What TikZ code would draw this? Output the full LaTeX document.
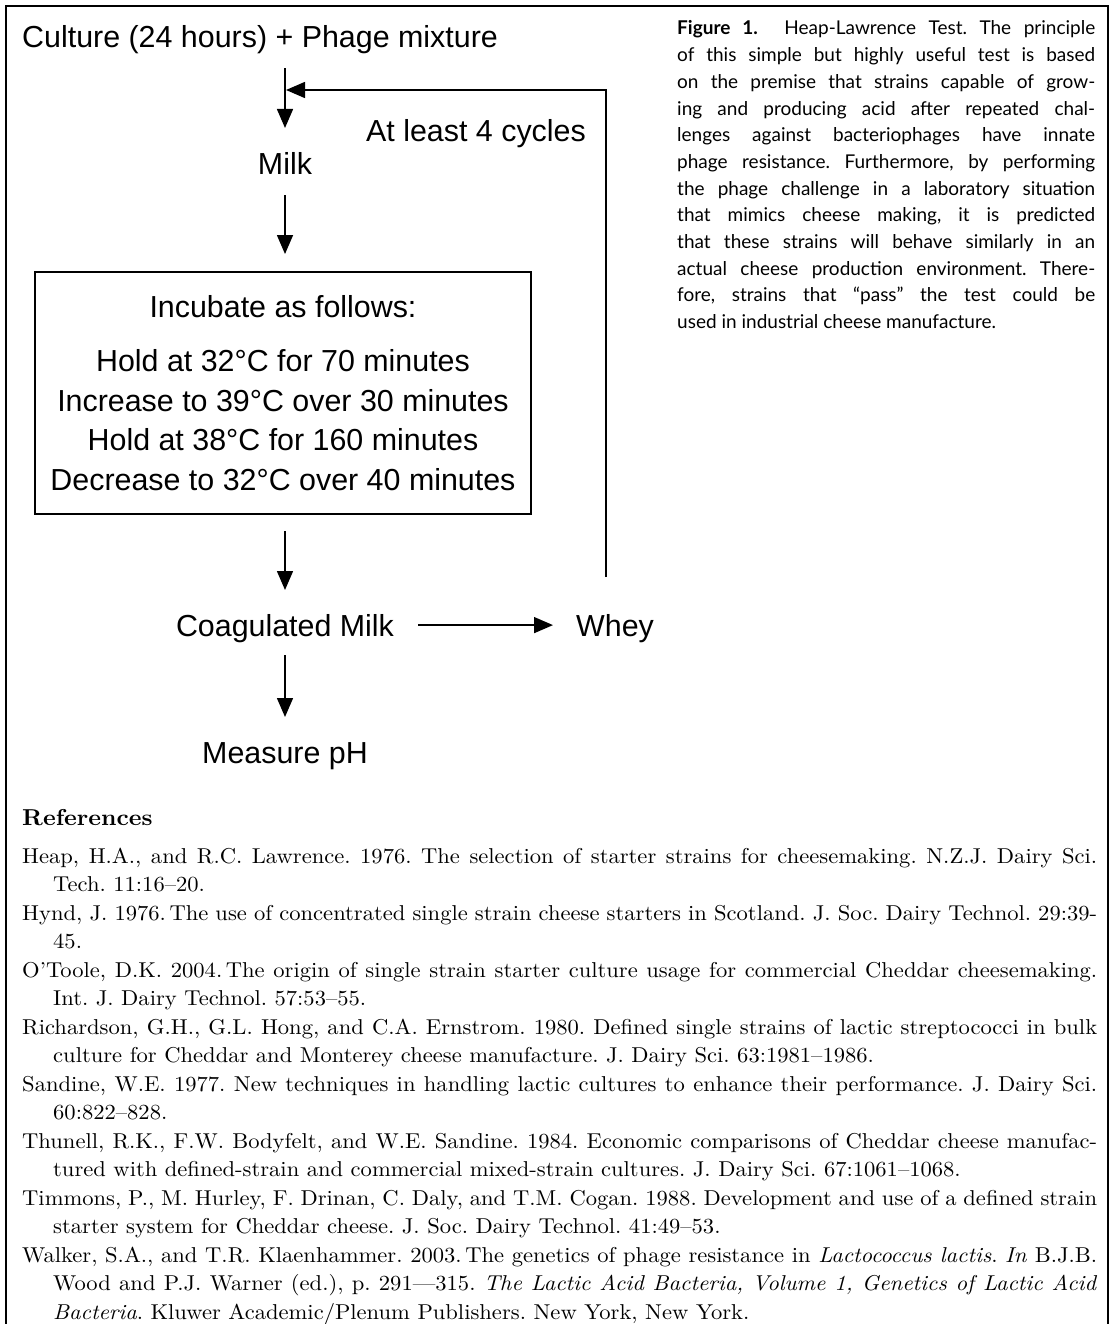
\documentclass[tikz,border=0pt]{standalone}
\usepackage{fontspec}
\newfontfamily\flowfont{Liberation Sans}
\newfontfamily\capfont{Lato}
\newfontfamily\reffont{lmroman10-regular.otf}[FakeStretch=1.05, BoldFont=lmroman10-bold.otf, ItalicFont=lmroman10-italic.otf, BoldItalicFont=lmroman10-bolditalic.otf]
\usetikzlibrary{arrows.meta,calc}
\newcommand\refitem{\par\hangindent=31pt\hangafter=1\noindent}
\begin{document}
\begin{tikzpicture}[x=1pt,y=-1pt,
  flow/.style={font=\flowfont\fontsize{30.4}{36}\selectfont, inner sep=0pt, text height=21.8pt, text depth=0pt},
  arr/.style={line width=1.5pt, -{Triangle[length=19pt,width=16pt]}},
  frameline/.style={line width=1.5pt}]
\useasboundingbox (0,0) rectangle (1111,1324);
\draw[frameline] (6,1340) -- (6,6) -- (1108,6) -- (1108,1340);

% flowchart
\node[flow, anchor=west] (culture) at (22,37.1) {Culture (24 hours) + Phage mixture};
\node[flow] (milk) at (285,164.1) {Milk};
\node[flow, anchor=east] (cycles) at (586,131.1) {At least 4 cycles};
\node[draw, line width=1.8pt, font=\flowfont\fontsize{30.4}{39.5}\selectfont, align=center,
      minimum width=496pt, inner xsep=10pt, inner ysep=23.5pt] (incubate) at (283,392.9)
  {Incubate as follows:\\[15.2pt] Hold at 32°C for 70 minutes\\ Increase to 39°C over 30 minutes\\ Hold at 38°C for 160 minutes\\ Decrease to 32°C over 40 minutes};
\node[flow] (coag) at (285,625.1) {Coagulated Milk};
\node[flow, anchor=west] (whey) at (576,625.1) {Whey};
\node[flow] (measure) at (285,752.1) {Measure pH};

\draw[arr, shorten <=20pt, shorten >=25pt] (culture.south -| milk.north) -- (milk.north);
\draw[arr, shorten <=20pt, shorten >=16.7pt] (milk.south) -- (milk.south |- incubate.north);
\draw[arr, shorten <=16pt, shorten >=24pt] (incubate.south -| coag.north) -- (coag.north);
\draw[arr, shorten <=19pt, shorten >=24pt] (coag.south) -- (measure.north);
\draw[arr, shorten <=24pt, shorten >=23pt] (coag.east) -- (whey.west);
\coordinate (loop) at (606,90);
\draw[arr, shorten <=37pt, shorten >=1pt] (whey.north -| loop) -- (loop) -- (loop -| milk.north);

% caption
\node[anchor=base west, inner sep=0pt] (caption) at (677,35) {\begin{minipage}[t]{418pt}\capfont\fontsize{19}{26.67}\selectfont\tolerance=10000\frenchspacing\noindent
\textbf{Figure 1.}\hskip 1.4em Heap-Lawrence Test. The principle\linebreak
of this simple but highly useful test is based\linebreak
on the premise that strains capable of grow-\linebreak
ing and producing acid after repeated chal-\linebreak
lenges against bacteriophages have innate\linebreak
phage resistance. Furthermore, by performing\linebreak
the phage challenge in a laboratory situation\linebreak
that mimics cheese making, it is predicted\linebreak
that these strains will behave similarly in an\linebreak
actual cheese production environment. There-\linebreak
fore, strains that “pass” the test could be\linebreak
used in industrial cheese manufacture.\par
\end{minipage}};

% references
\node[anchor=base west, inner sep=0pt, font=\reffont\bfseries\fontsize{23}{28}\selectfont] (refhead) at (22,825) {References};
\node[anchor=base west, inner sep=0pt] (refs) at (22,863) {\begin{minipage}[t]{1075pt}\reffont\fontsize{21.5}{28.5}\selectfont\tolerance=10000\frenchspacing
\refitem Heap, H.A., and R.C. Lawrence. 1976. The selection of starter strains for cheesemaking. N.Z.J. Dairy Sci.\linebreak Tech. 11:16–20.
\refitem Hynd, J. 1976.\,The use of concentrated single strain cheese starters in Scotland. J. Soc. Dairy Technol. 29:39-\linebreak 45.
\refitem O’Toole, D.K. 2004.\,The origin of single strain starter culture usage for commercial Cheddar cheesemaking.\linebreak Int. J. Dairy Technol. 57:53–55.
\refitem Richardson, G.H., G.L. Hong, and C.A. Ernstrom. 1980. Defined single strains of lactic streptococci in bulk\linebreak culture for Cheddar and Monterey cheese manufacture. J. Dairy Sci. 63:1981–1986.
\refitem Sandine, W.E. 1977. New techniques in handling lactic cultures to enhance their performance. J. Dairy Sci.\linebreak 60:822–828.
\refitem Thunell, R.K., F.W. Bodyfelt, and W.E. Sandine. 1984. Economic comparisons of Cheddar cheese manufac-\linebreak tured with defined-strain and commercial mixed-strain cultures. J. Dairy Sci. 67:1061–1068.
\refitem Timmons, P., M. Hurley, F. Drinan, C. Daly, and T.M. Cogan. 1988. Development and use of a defined strain\linebreak starter system for Cheddar cheese. J. Soc. Dairy Technol. 41:49–53.
\refitem Walker, S.A., and T.R. Klaenhammer. 2003.\,The genetics of phage resistance in \textit{Lactococcus lactis}. \textit{In} B.J.B.\linebreak Wood and P.J. Warner (ed.), p. 291—315. \textit{The Lactic Acid Bacteria, Volume 1, Genetics of Lactic Acid}\linebreak \textit{Bacteria}. Kluwer Academic/Plenum Publishers. New York, New York.\par
\end{minipage}};
\end{tikzpicture}
\end{document}
